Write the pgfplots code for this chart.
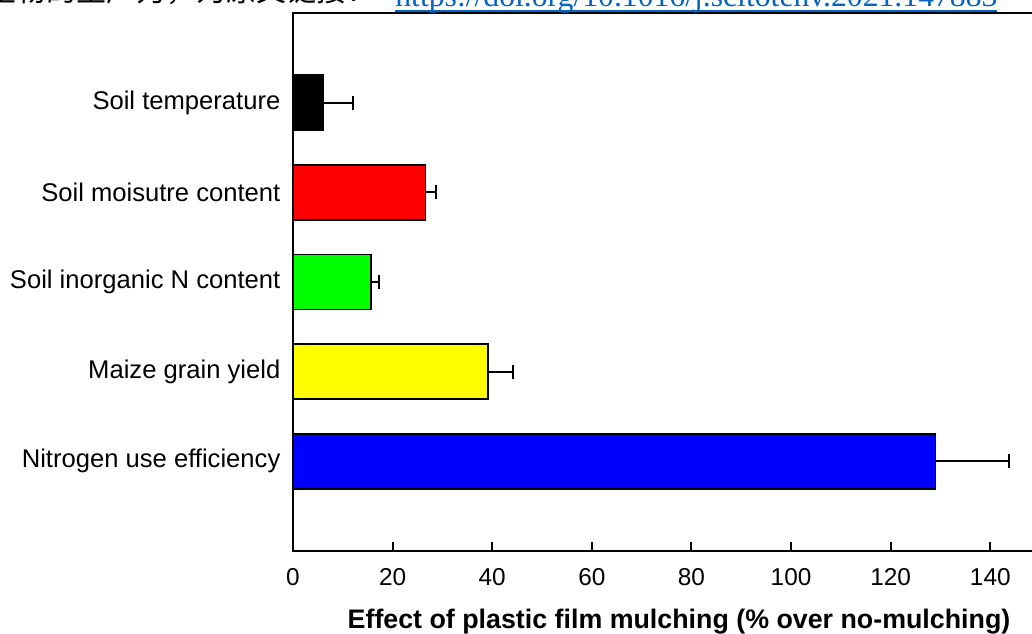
\documentclass[border=0pt]{standalone}
\usepackage{pgfplots}
\pgfplotsset{compat=1.18}
\usepackage{fontspec}
\setmainfont{Liberation Sans}
\newfontfamily\cjk{Noto Sans CJK SC}
\newfontfamily\linkfont{Liberation Serif}
\definecolor{linkblue}{RGB}{5,99,193}
\begin{document}
\begin{tikzpicture}
\begin{axis}[
  at={(0,0)}, anchor=south west,
  scale only axis,
  width=386pt, height=269pt,
  xmin=0, xmax=155, ymin=-1, ymax=5,
  xbar, bar width=27.5pt,
  axis line style={line width=1.1pt},
  xtick={0,20,...,140},
  xtick pos=bottom, ytick pos=left,
  tick align=inside,
  major tick length=4.5pt,
  tick style={line width=1pt, black},
  ytick={0,1,2,3,4},
  yticklabels={Nitrogen use efficiency, Maize grain yield, Soil inorganic N content, Soil moisutre content, Soil temperature},
  ytick style={draw=none},
  yticklabel style={font=\fontsize{12.8}{14}\selectfont, anchor=east, xshift=-2.8pt},
  xticklabel style={font=\fontsize{12.2}{14}\selectfont, anchor=base, yshift=-17pt},
  /pgf/number format/assume math mode=true,
  xlabel={Effect of plastic film mulching (\% over no-mulching)},
  xlabel style={font=\bfseries\fontsize{13.4}{15}\selectfont, at={(axis description cs:0.5,0)}, anchor=base, yshift=-38.5pt},
  every axis plot/.append style={draw=black, line width=0.95pt, bar shift=0pt},
  error bars/error bar style={line width=0.95pt, black},
  error bars/error mark=|,
  error bars/error mark options={line width=0.95pt, mark size=3.5pt, black},
]
\addplot[fill=black, error bars/.cd, x dir=plus, x explicit] coordinates {(6.1,4) +- (5.9,0)};
\addplot[fill={rgb,255:red,255;green,0;blue,0}, error bars/.cd, x dir=plus, x explicit] coordinates {(26.6,3) +- (2.1,0)};
\addplot[fill={rgb,255:red,0;green,255;blue,0}, error bars/.cd, x dir=plus, x explicit] coordinates {(15.7,2) +- (1.6,0)};
\addplot[fill={rgb,255:red,255;green,255;blue,0}, error bars/.cd, x dir=plus, x explicit] coordinates {(39.1,1) +- (5.1,0)};
\addplot[fill={rgb,255:red,0;green,0;blue,255}, error bars/.cd, x dir=plus, x explicit] coordinates {(129.0,0) +- (14.7,0)};
\end{axis}
\node[anchor=base east, inner sep=0pt, font=\cjk\fontsize{15}{15}\selectfont] at (42pt,274.5pt) {土壤微生物的生产力，为原文链接：};
\node[anchor=base west, inner sep=0pt, text=linkblue] at (51pt,272pt) {\resizebox{301pt}{!}{\linkfont https://doi.org/10.1016/j.scitotenv.2021.147883}};
\draw[linkblue, line width=1pt] (51pt,270pt) -- (352pt,270pt);
\pgfresetboundingbox
\path[use as bounding box] (-146.5pt,-41pt) rectangle (369.5pt,275.5pt);
\end{tikzpicture}
\end{document}
